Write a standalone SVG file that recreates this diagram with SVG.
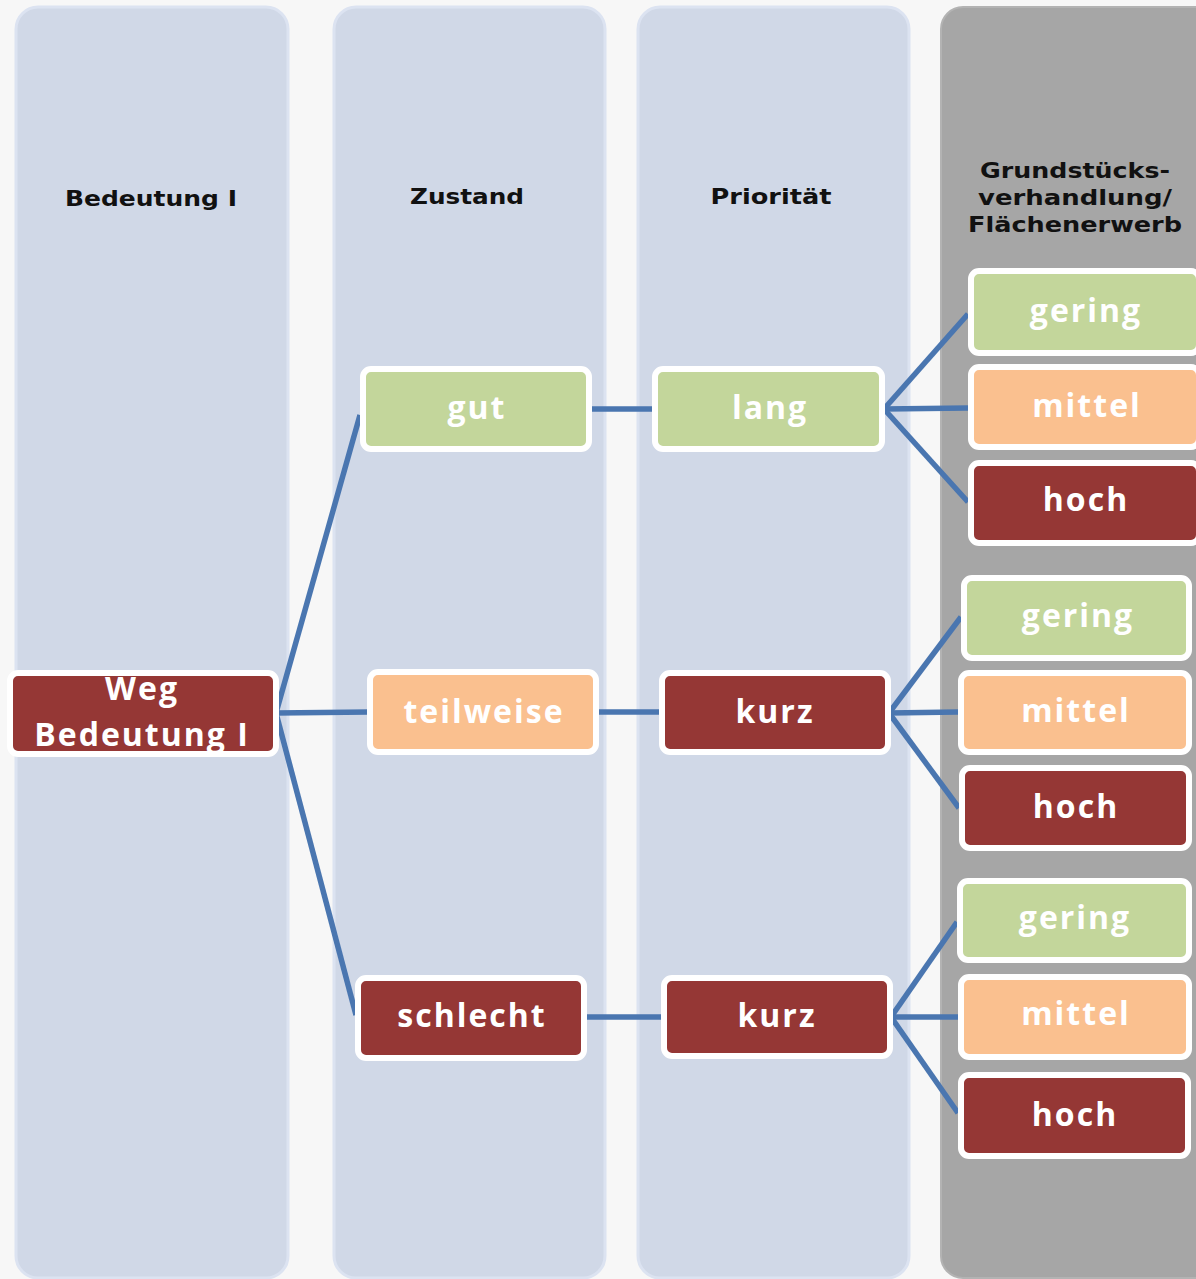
<svg xmlns="http://www.w3.org/2000/svg" width="1196" height="1279" viewBox="0 0 1196 1279">
<defs>
<style>
.col{fill:#D0D8E7;stroke:#DCE3F1;stroke-width:3}
.colg{fill:#A6A6A6;stroke:#B3B3B3;stroke-width:2}
.hdr{font-family:"DejaVu Sans",Verdana,sans-serif;font-weight:bold;font-size:21px;fill:#111;text-anchor:middle}
.n rect{stroke:#FFFFFF;stroke-width:6}
.n text{font-family:"Open Sans","Liberation Sans",sans-serif;font-weight:bold;font-size:32px;letter-spacing:2px;fill:#FFFFFF;text-anchor:middle}
.g{fill:#C3D69B}
.o{fill:#FAC08F}
.r{fill:#953735}
.c{stroke:#4A76B0;stroke-width:5.5;fill:none}
</style>
</defs>
<rect width="1196" height="1279" fill="#F7F7F7"/>
<g id="columns">
<rect class="col" x="16" y="7" width="272" height="1271" rx="22"/>
<rect class="col" x="334" y="7" width="271" height="1271" rx="22"/>
<rect class="col" x="638" y="7" width="271" height="1271" rx="22"/>
<rect class="colg" x="941" y="7" width="290" height="1271" rx="22"/>
</g>
<g id="headers">
<text class="hdr" x="151" y="206" textLength="172" lengthAdjust="spacingAndGlyphs">Bedeutung I</text>
<text class="hdr" x="467" y="204" textLength="114" lengthAdjust="spacingAndGlyphs">Zustand</text>
<text class="hdr" x="771" y="204" textLength="121" lengthAdjust="spacingAndGlyphs">Priorität</text>
<text class="hdr" x="1075" y="178" textLength="190" lengthAdjust="spacingAndGlyphs">Grundstücks-</text>
<text class="hdr" x="1075" y="205" textLength="194" lengthAdjust="spacingAndGlyphs">verhandlung/</text>
<text class="hdr" x="1075" y="232" textLength="214" lengthAdjust="spacingAndGlyphs">Flächenerwerb</text>
</g>
<g id="connectors">
<line class="c" x1="276" y1="713" x2="360" y2="415"/>
<line class="c" x1="276" y1="713" x2="369" y2="712"/>
<line class="c" x1="276" y1="713" x2="356" y2="1015"/>
<line class="c" x1="590" y1="409" x2="654" y2="409"/>
<line class="c" x1="597" y1="712" x2="661" y2="712"/>
<line class="c" x1="584" y1="1017" x2="663" y2="1017"/>
<line class="c" x1="884" y1="409" x2="968" y2="314"/>
<line class="c" x1="884" y1="409" x2="968" y2="408"/>
<line class="c" x1="884" y1="409" x2="968" y2="502"/>
<line class="c" x1="889" y1="713" x2="961" y2="617"/>
<line class="c" x1="889" y1="713" x2="958" y2="712"/>
<line class="c" x1="889" y1="713" x2="959" y2="808"/>
<line class="c" x1="891" y1="1017" x2="957" y2="922"/>
<line class="c" x1="891" y1="1017" x2="958" y2="1017"/>
<line class="c" x1="891" y1="1017" x2="958" y2="1113"/>
</g>
<g id="weg" class="n"><rect class="r" x="10" y="673" width="266" height="81" rx="8"/><text x="142" y="700">Weg</text><text x="142" y="746">Bedeutung I</text></g>
<g id="gut" class="n"><rect class="g" x="363" y="369" width="226" height="80" rx="8"/><text x="477" y="419">gut</text></g>
<g id="teilweise" class="n"><rect class="o" x="370" y="672" width="226" height="80" rx="8"/><text x="484" y="723">teilweise</text></g>
<g id="schlecht" class="n"><rect class="r" x="358" y="978" width="226" height="80" rx="8"/><text x="472" y="1027">schlecht</text></g>
<g id="lang" class="n"><rect class="g" x="655" y="369" width="227" height="80" rx="8"/><text x="770" y="419">lang</text></g>
<g id="kurz1" class="n"><rect class="r" x="662" y="673" width="226" height="79" rx="8"/><text x="775" y="723">kurz</text></g>
<g id="kurz2" class="n"><rect class="r" x="664" y="978" width="226" height="78" rx="8"/><text x="777" y="1027">kurz</text></g>
<g id="gering1" class="n"><rect class="g" x="971" y="271" width="228" height="82" rx="8"/><text x="1086" y="322">gering</text></g>
<g id="mittel1" class="n"><rect class="o" x="971" y="367" width="228" height="80" rx="8"/><text x="1087" y="417">mittel</text></g>
<g id="hoch1" class="n"><rect class="r" x="971" y="463" width="228" height="80" rx="8"/><text x="1086" y="511">hoch</text></g>
<g id="gering2" class="n"><rect class="g" x="964" y="578" width="225" height="80" rx="8"/><text x="1078" y="627">gering</text></g>
<g id="mittel2" class="n"><rect class="o" x="961" y="673" width="228" height="79" rx="8"/><text x="1076" y="722">mittel</text></g>
<g id="hoch2" class="n"><rect class="r" x="962" y="768" width="227" height="80" rx="8"/><text x="1076" y="818">hoch</text></g>
<g id="gering3" class="n"><rect class="g" x="960" y="881" width="229" height="79" rx="8"/><text x="1075" y="929">gering</text></g>
<g id="mittel3" class="n"><rect class="o" x="961" y="977" width="228" height="80" rx="8"/><text x="1076" y="1025">mittel</text></g>
<g id="hoch3" class="n"><rect class="r" x="961" y="1075" width="227" height="81" rx="8"/><text x="1075" y="1126">hoch</text></g>
</svg>
